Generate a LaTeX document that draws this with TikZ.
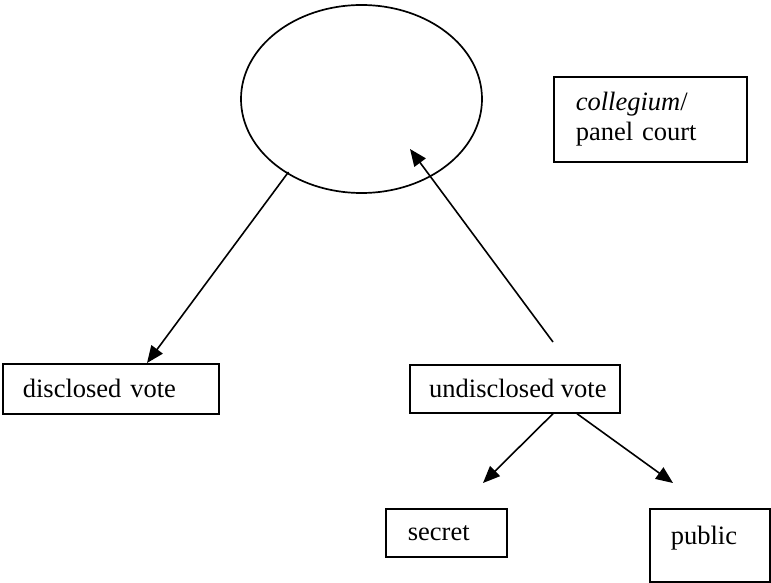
\documentclass[tikz,border=0pt]{standalone}
\usepackage{fontspec}
\setmainfont{Liberation Serif}
\usetikzlibrary{arrows.meta,shapes.geometric,calc}
\begin{document}
\begin{tikzpicture}[x=1pt,y=-1pt,
  every node/.style={font=\fontsize{26.5}{30}\selectfont},
  box/.style={draw,line width=1.7pt,rectangle,anchor=north west,align=left,inner ysep=0pt},
  arr/.style={line width=1.6pt,-{Triangle[length=17pt,width=14pt]}}]
\useasboundingbox (0,0) rectangle (771,583);
\node[draw,ellipse,line width=1.7pt,minimum width=241pt,minimum height=188pt,inner sep=0pt] (oval) at (361.5,99) {};
\node[box,minimum height=85pt,inner xsep=22pt,text width=149pt] (col) at (553,76) {\textit{collegium}/\\panel court};
\node[box,minimum height=50pt,inner xsep=20pt,text width=176pt] (dis) at (2,363) {disclosed vote};
\node[box,minimum height=48pt,minimum width=210pt,inner xsep=0pt] (und) at (409,364) {\hspace*{6pt}undisclosed vote};
\node[box,minimum height=48pt,inner xsep=22pt,text width=77pt] (sec) at (385,508) {secret};
\node[box,minimum height=73pt,inner xsep=21pt,text width=78pt,text depth=20pt] (pub) at (649,508) {public};
\coordinate (upstart) at (553,342);
\coordinate (uptip) at (410,149);
\coordinate (sectip) at (483,483);
\coordinate (pubtip) at (673,483);
\draw[arr] ($(oval.center)+(-73,73)$) -- ($(dis.north west)+(145,0)$);
\draw[arr] (upstart) -- (uptip);
\draw[arr] ($(und.south west)+(144,0)$) -- (sectip);
\draw[arr] ($(und.south west)+(168,0)$) -- (pubtip);
\end{tikzpicture}
\end{document}
